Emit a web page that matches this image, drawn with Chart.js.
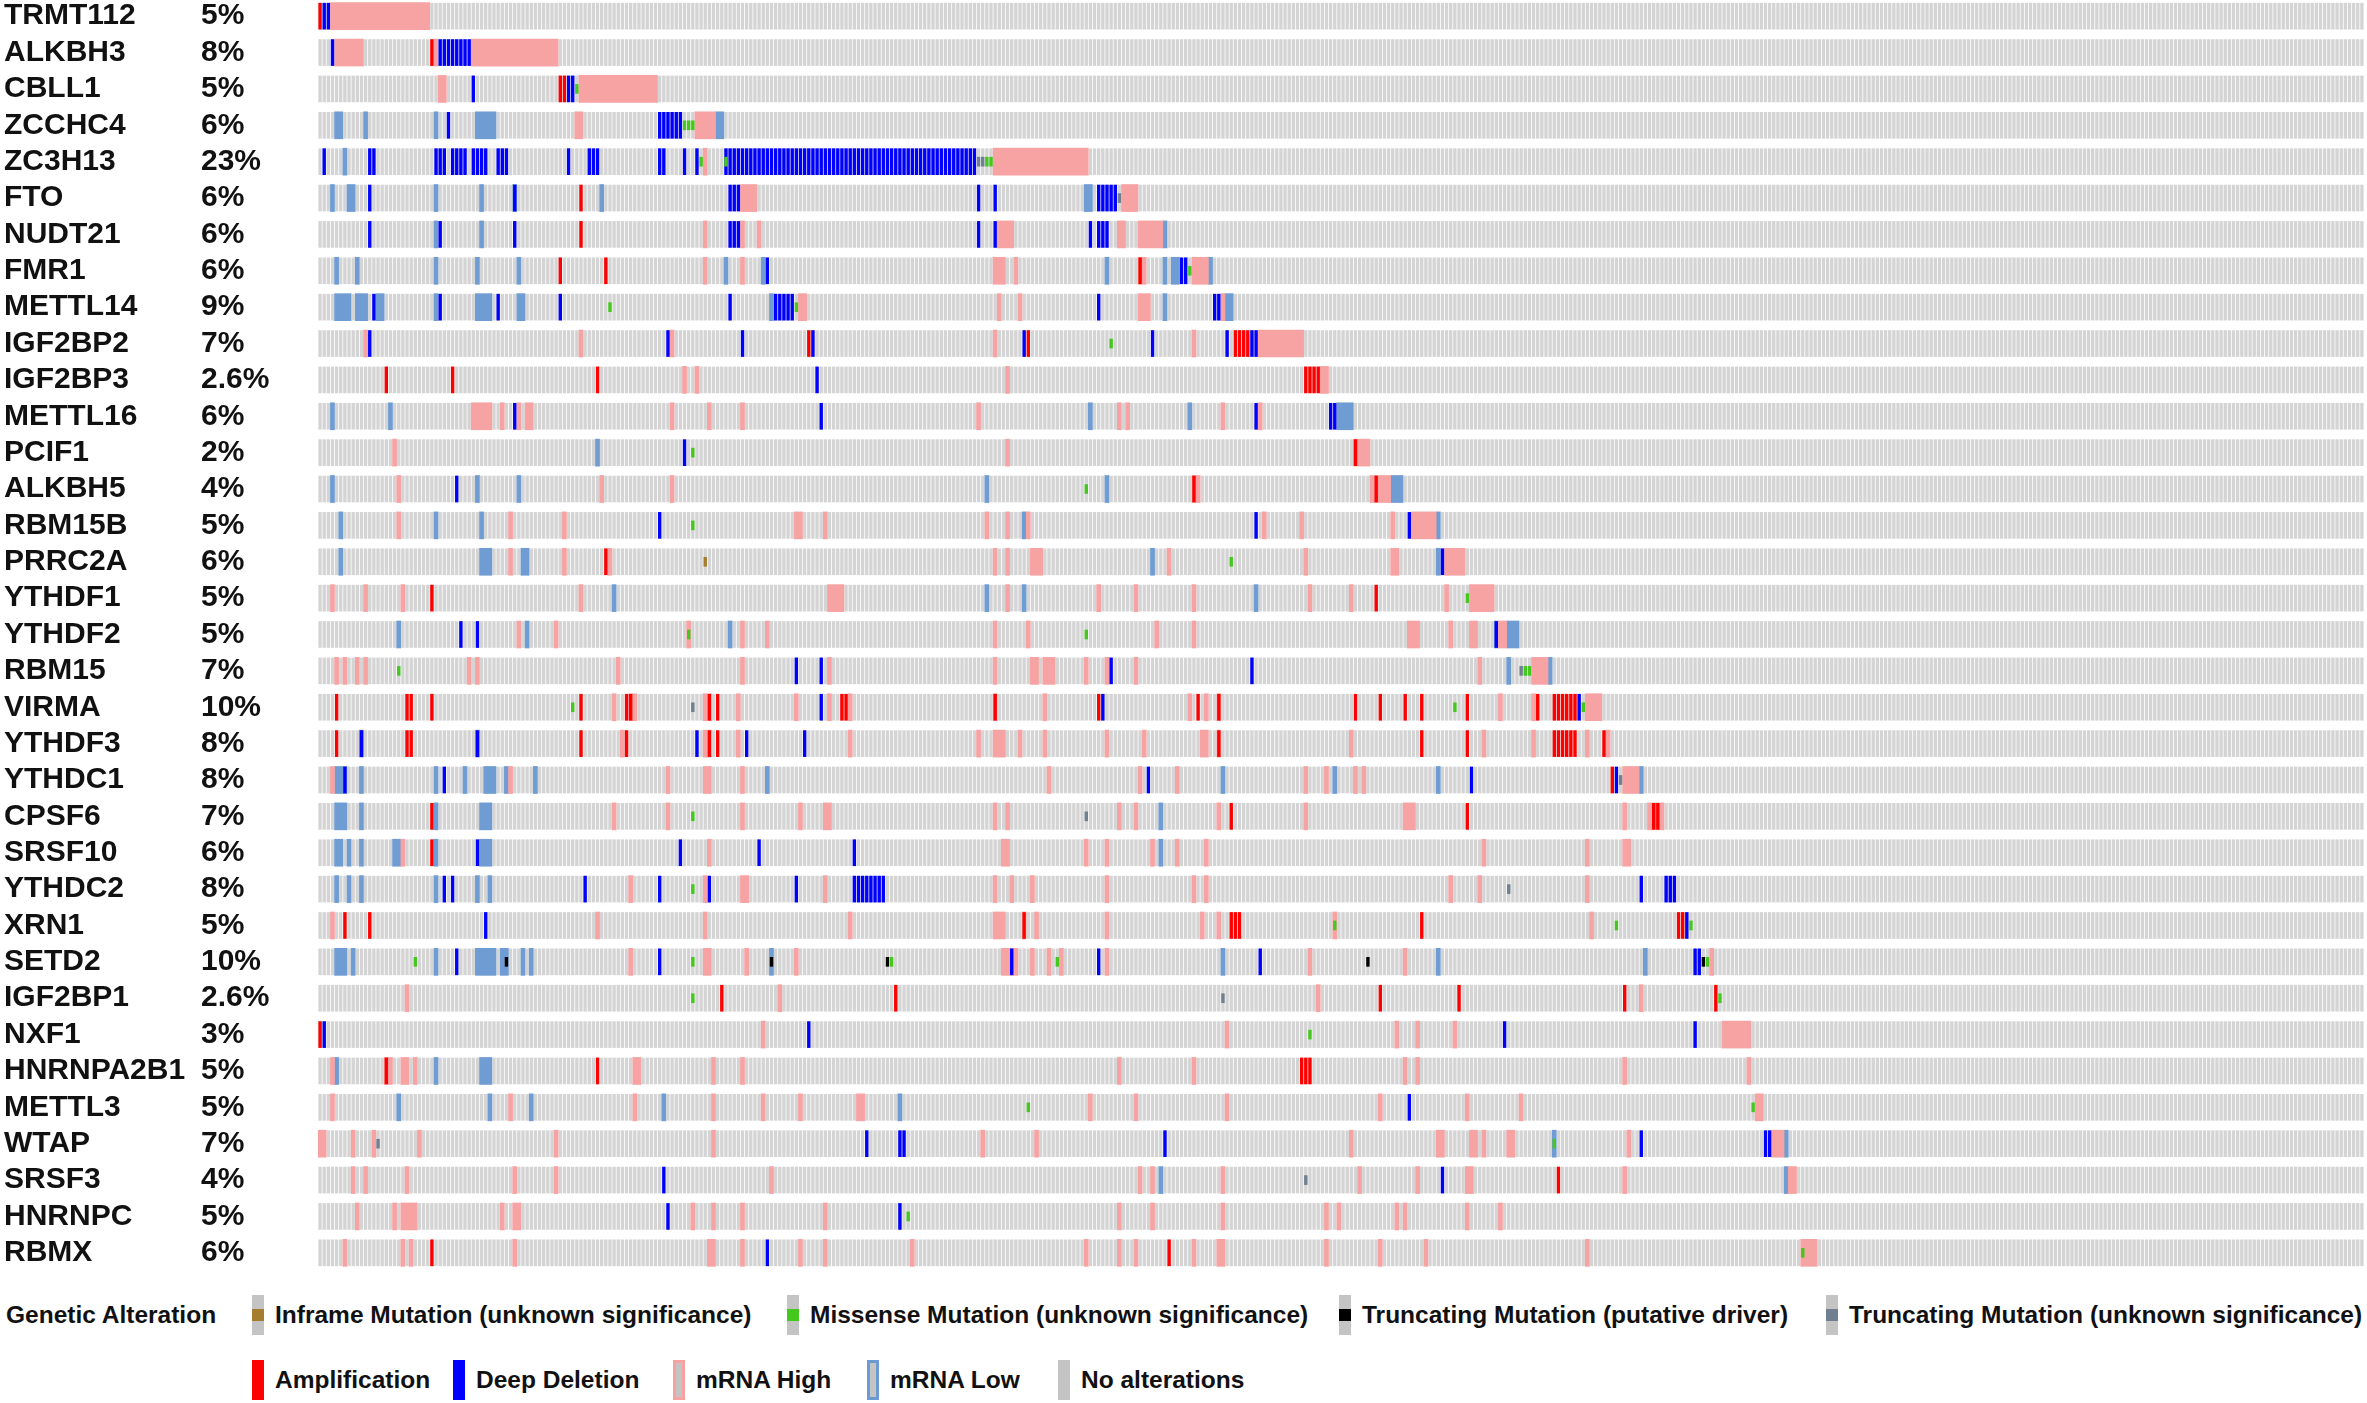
<!DOCTYPE html>
<html lang="en">
<head>
  <meta charset="UTF-8">
  <title>Oncoprint – m6A regulators</title>
  <script src="https://cdn.jsdelivr.net/npm/chart.js"></script>
  <style>
    body {
      margin: 0;
      background: #fff;
      font-family: "Liberation Sans", Arial, sans-serif;
    }
    #wrap {
      position: relative;
      width: 2367px;
      height: 1403px;
      overflow: hidden;
    }
    #chartBox {
      position: absolute;
      left: 0;
      top: -2px;
      width: 2367px;
      height: 1273px;
    }
    .lg {
      position: absolute;
      display: flex;
      align-items: center;
      height: 40px;
      font: bold 24.5px "Liberation Sans", Arial, sans-serif;
      color: #111;
      white-space: nowrap;
    }
    .glyph {
      width: 12px;
      height: 40px;
      margin-right: 11px;
      box-sizing: border-box;
      background: #c4c4c4;
    }
  </style>
</head>
<body>
<div id="wrap">
  <div id="chartBox"><canvas id="onco"></canvas></div>

  <!-- legend -->
  <div class="lg" style="left:6px; top:1295px;">Genetic Alteration</div>
  <div class="lg" style="left:252px; top:1295px;"><div class="glyph" style="background:linear-gradient(#c4c4c4 0 35%, #a67c2e 35% 65%, #c4c4c4 65%);"></div>Inframe Mutation (unknown significance)</div>
  <div class="lg" style="left:787px; top:1295px;"><div class="glyph" style="background:linear-gradient(#c4c4c4 0 35%, #45c81e 35% 65%, #c4c4c4 65%);"></div>Missense Mutation (unknown significance)</div>
  <div class="lg" style="left:1339px; top:1295px;"><div class="glyph" style="background:linear-gradient(#c4c4c4 0 35%, #000 35% 65%, #c4c4c4 65%);"></div>Truncating Mutation (putative driver)</div>
  <div class="lg" style="left:1826px; top:1295px;"><div class="glyph" style="background:linear-gradient(#c4c4c4 0 35%, #708090 35% 65%, #c4c4c4 65%);"></div>Truncating Mutation (unknown significance)</div>

  <div class="lg" style="left:252px; top:1360px;"><div class="glyph" style="background:#ff0000;"></div>Amplification</div>
  <div class="lg" style="left:453px; top:1360px;"><div class="glyph" style="background:#0000ff;"></div>Deep Deletion</div>
  <div class="lg" style="left:673px; top:1360px;"><div class="glyph" style="border:3px solid #f7a1a1;"></div>mRNA High</div>
  <div class="lg" style="left:867px; top:1360px;"><div class="glyph" style="border:3px solid #6d9bd1;"></div>mRNA Low</div>
  <div class="lg" style="left:1058px; top:1360px;"><div class="glyph"></div>No alterations</div>
</div>

<script>
  // samples in the cohort (columns of the oncoprint)
  const N_SAMPLES = 494;

  const genes = [
    "TRMT112", "ALKBH3", "CBLL1", "ZCCHC4", "ZC3H13", "FTO", "NUDT21", "FMR1",
    "METTL14", "IGF2BP2", "IGF2BP3", "METTL16", "PCIF1", "ALKBH5", "RBM15B",
    "PRRC2A", "YTHDF1", "YTHDF2", "RBM15", "VIRMA", "YTHDF3", "YTHDC1", "CPSF6",
    "SRSF10", "YTHDC2", "XRN1", "SETD2", "IGF2BP1", "NXF1", "HNRNPA2B1", "METTL3",
    "WTAP", "SRSF3", "HNRNPC", "RBMX"
  ];
  const percents = [
    "5%", "8%", "5%", "6%", "23%", "6%", "6%", "6%", "9%", "7%", "2.6%", "6%",
    "2%", "4%", "5%", "6%", "5%", "5%", "7%", "10%", "8%", "8%", "7%", "6%",
    "8%", "5%", "10%", "2.6%", "3%", "5%", "5%", "7%", "4%", "5%", "6%"
  ];

  // one list per gene, entries are a sample index or a run [first, last]
  const amplification = [
    [0], [27], [58, 59], [], [], [63], [63], [58, 69, 198], [],
    [118, 171, [221, 224]], [16, 32, 67, [238, 241]], [], [250], [211, 255], [], [69],
    [27, 255], [], [],
    [4, 21, 22, 27, 63, 74, 75, 94, 96, 126, 127, 163, 188, 212, 217, 250, 256, 262, 266, 277, 294, [298, 303]],
    [4, 21, 22, 63, 74, 94, 96, 217, 266, 277, [298, 303], 310],
    [312], [27, 220, 277, 322, 323], [27], [], [6, 12, 170, [220, 222], 266, 328, 329], [],
    [97, 139, 256, 275, 315, 337], [0], [16, 67, [237, 239]], [], [], [299], [], [27, 205]
  ];
  const deepDeletion = [
    [1, 2], [3, [29, 36]], [37, 60, 61], [31, [82, 87]],
    [1, 12, 13, [28, 30], [32, 35], [37, 40], [43, 45], 60, [65, 67], 82, 83, 88, 91, [98, 158]],
    [12, 47, [99, 101], 159, 163, [188, 192]],
    [12, 29, 47, [99, 101], 159, 163, 186, [188, 190]],
    [108, 208, 209],
    [13, 29, 43, 58, 99, [110, 114], 188, 216, 217],
    [12, 84, 102, 119, 170, 201, 219, 225, 226],
    [120], [47, 121, 226, 244, 245], [88], [33], [82, 226, 263], [271], [], [34, 38, 284],
    [115, 121, 191, 225], [121, 189, 304], [10, 38, 91, 103, 117], [6, 30, 200, 278, 313], [],
    [38, 87, 106, 129],
    [30, 32, 64, 82, 94, 115, [129, 136], 319, [325, 327]],
    [40, 330], [33, 82, 167, 188, 227, 332, 333], [], [1, 118, 286, 332], [], [263],
    [132, 140, 141, 204, 319, 349, 350], [83, 271], [84, 140], [108]
  ];
  const mrnaHigh = [
    [[3, 26]],
    [[4, 10], 28, [37, 57]],
    [[29, 30], [63, 81]],
    [[62, 63], [91, 95]],
    [93, [163, 185]],
    [[102, 105], [194, 197]],
    [93, 102, 106, [164, 167], [193, 194], [198, 203]],
    [93, 102, [163, 165], 168, [198, 199], [211, 214]],
    [[116, 117], 164, 169, [198, 200], 218],
    [11, 63, 85, 163, 211, [227, 237]],
    [88, 91, 166, [242, 243]],
    [[37, 41], 44, 48, [50, 51], 85, 94, 102, 159, 193, 195, 218, 227],
    [18, 166, [250, 253]],
    [19, 68, 85, [211, 212], [254, 258]],
    [19, 46, 59, [115, 116], 122, 161, 166, 171, 228, 237, 259, [264, 269]],
    [46, 59, 70, 163, 166, [172, 174], 205, 238, [259, 260], [272, 276]],
    [3, 11, 20, 63, [123, 126], 166, 188, 197, 211, 239, 249, 272, [278, 283]],
    [48, 57, 89, 102, 108, 163, 171, 202, 211, [263, 265], 273, [278, 279], [285, 286]],
    [4, 6, 9, 11, 36, 38, 72, 102, 123, 163, [172, 173], [175, 177], 185, 190, 197, 280, [293, 296]],
    [71, [75, 76], [93, 94], 101, 115, 123, 128, 163, 175, 210, 214, 217, 285, 293, [306, 309]],
    [73, [93, 94], 101, 128, 159, [163, 165], 169, 175, 190, 199, [213, 214], 217, 249, 281, 293, 306, 311],
    [3, 46, 84, [93, 94], 102, 176, 198, 207, 238, 243, 250, 252, [315, 318]],
    [71, 84, 102, 116, [122, 123], 163, 166, 193, 197, 217, 238, [262, 264], 315, [321, 324]],
    [20, 94, [165, 166], 185, 190, 201, 207, 214, 281, 306, [315, 316]],
    [75, 93, [102, 103], 122, 163, 167, 172, 190, 211, 214, 273, 280, 306],
    [3, 67, 93, 128, [163, 165], 170, 173, 190, 213, 217, 245, 307],
    [75, [93, 94], 103, 115, [165, 168], 172, 176, 179, 190, 239, 262, 336],
    [21, 111, 241, 319],
    [107, 219, 260, 265, 274, [339, 345]],
    [3, [16, 17], [20, 21], 23, [76, 77], 95, 102, 193, 211, 262, 265, 315, 345],
    [3, 46, 76, 95, 107, 116, [130, 131], 186, 197, 219, 256, 277, 290, [347, 348]],
    [[0, 1], 8, 13, 24, 57, 95, 160, 173, 249, [270, 271], [278, 279], 281, [287, 288], 316, [351, 353]],
    [8, 11, 21, 47, 57, 109, 198, 201, 218, 251, 265, [277, 278], 315, [355, 356]],
    [9, 18, [20, 23], 44, [47, 48], 90, 95, 102, 122, 193, 201, 218, 243, 246, 260, 262, 277, 285],
    [6, 20, 22, 47, [94, 95], 102, 116, 122, 143, 185, 193, 197, 211, [217, 218], 243, 256, 267, 306, [358, 361]]
  ];
  const mrnaLow = [
    [], [], [],
    [[4, 5], 11, 28, [38, 42], [96, 97]],
    [6],
    [3, [7, 8], 28, 39, 47, 68, [185, 186]],
    [28, 39, 204],
    [4, 9, 28, 38, 48, 98, 107, 190, 204, [206, 207], 215],
    [[4, 7], [9, 11], [14, 15], 28, [38, 41], [48, 49], 109, 204, [219, 220]],
    [], [],
    [3, 17, 186, 210, [246, 249]],
    [67],
    [3, 38, 48, 161, 190, [259, 261]],
    [5, 28, 39, 170, 270],
    [5, [39, 41], [49, 50], 201, 270],
    [71, 161, 170, 226],
    [19, 50, 99, 284, [287, 289]],
    [287, 297],
    [],
    [10, 38],
    [[4, 6], 10, 28, 35, [40, 42], 45, 52, 108, 218, 245, 270, 319],
    [[4, 6], 10, 28, [39, 41], 203],
    [[4, 5], 7, 10, [18, 19], 28, [39, 41], 203],
    [4, 7, 10, 28, 38, 41],
    [],
    [[4, 6], 8, 28, [38, 42], [44, 45], 49, 51, 109, 218, 270, 320],
    [], [],
    [4, 28, [39, 41]],
    [19, 41, 51, 83, 140],
    [298, 354],
    [203, 354],
    [], []
  ];
  const missense = [
    [], [], [62], [88, 89, 90], [92, 98, 161, 162], [], [], [210], [70, 115], [191],
    [], [], [90], [185], [90], [220], [277], [89, 185], [19, 291, 292], [61, 274, 305],
    [], [], [90], [], [90], [245, 313, 331], [23, 90, 138, 178, 335], [90, 338], [239],
    [], [171, 346], [298], [], [142], [358]
  ];
  const truncDriver = [
    [], [], [], [], [], [], [], [], [], [], [], [], [], [], [], [], [], [], [], [],
    [], [], [], [], [], [], [45, 109, 137, 253, 334], [], [], [], [], [], [], [], []
  ];
  const truncUnknown = [
    [], [], [], [], [159, 160], [193], [], [], [], [], [], [], [], [], [], [], [], [],
    [290], [90], [], [314], [185], [], [287], [], [], [218], [], [], [], [14], [238], [], []
  ];
  const inframe = [
    [], [], [], [], [], [], [], [], [], [], [], [], [], [], [], [93], [], [], [], [],
    [], [], [], [], [], [], [], [], [], [], [], [], [], [], []
  ];

  // run-length list -> sample indices
  function expand(list) {
    const out = [];
    list.forEach(function(e) {
      if (Array.isArray(e)) {
        for (let s = e[0]; s <= e[1]; s++) out.push(s);
      } else {
        out.push(e);
      }
    });
    return out;
  }

  // one thin stripe per altered sample
  function stripes(lists, half) {
    const data = [];
    lists.forEach(function(list, g) {
      expand(list).forEach(function(s) {
        data.push({ y: genes[g], x: [s - half, s + half] });
      });
    });
    return data;
  }

  // mRNA runs are drawn as one joined block
  function blocks(lists) {
    const data = [];
    lists.forEach(function(list, g) {
      list.forEach(function(e) {
        const run = Array.isArray(e) ? e : [e, e];
        data.push({ y: genes[g], x: [run[0] - 0.5, run[1] + 0.48] });
      });
    });
    return data;
  }

  // gray background cell for every sample of every gene
  const background = [];
  genes.forEach(function(g) {
    for (let s = 0; s < N_SAMPLES; s++) {
      background.push({ y: g, x: [s - 0.33, s + 0.32] });
    }
  });

  const ROW_H = 26;
  const MUT_H = 9;

  function layer(label, data, color, thickness, order) {
    return {
      label: label,
      data: data,
      backgroundColor: color,
      borderWidth: 0,
      barThickness: thickness,
      grouped: false,
      order: order
    };
  }

  const labelFont = { family: "'Liberation Sans', Arial, sans-serif", size: 30, weight: "bold" };

  // the row labels must not add half-label padding above and below the rows
  function fitLabelAxis(width) {
    return function(scale) {
      scale.width = width;
      scale.paddingTop = 0;
      scale.paddingBottom = 0;
    };
  }

  new Chart(document.getElementById("onco"), {
    type: "bar",
    data: {
      labels: genes,
      datasets: [
        layer("Inframe Mutation (unknown significance)", stripes(inframe, 0.33), "#a67c2e", MUT_H, 0),
        layer("Missense Mutation (unknown significance)", stripes(missense, 0.33), "#45c81e", MUT_H, 0),
        layer("Truncating Mutation (putative driver)", stripes(truncDriver, 0.33), "#000000", MUT_H, 0),
        layer("Truncating Mutation (unknown significance)", stripes(truncUnknown, 0.33), "#708090", MUT_H, 0),
        layer("Amplification", stripes(amplification, 0.33), "#ff0000", ROW_H, 1),
        layer("Deep Deletion", stripes(deepDeletion, 0.33), "#0000ff", ROW_H, 1),
        layer("mRNA High", blocks(mrnaHigh), "#f7a3a3", ROW_H + 1, 2),
        layer("mRNA Low", blocks(mrnaLow), "#6f9cd2", ROW_H + 1, 2),
        layer("No alterations", background, "#d4d4d4", ROW_H, 3)
      ]
    },
    options: {
      indexAxis: "y",
      responsive: true,
      maintainAspectRatio: false,
      animation: false,
      devicePixelRatio: 1,
      events: [],
      layout: { padding: { left: 4, right: 3, top: 0, bottom: 0 } },
      plugins: {
        legend: { display: false },
        tooltip: { enabled: false }
      },
      scales: {
        x: {
          type: "linear",
          min: -0.5,
          max: N_SAMPLES - 0.5,
          display: false
        },
        y: {
          type: "category",
          position: "left",
          weight: 2,
          offset: true,
          grid: { display: false, drawTicks: false },
          border: { display: false },
          ticks: { font: labelFont, color: "#111", crossAlign: "far", padding: 0, autoSkip: false },
          afterFit: fitLabelAxis(197)
        },
        pct: {
          type: "category",
          labels: percents,
          position: "left",
          weight: 1,
          offset: true,
          grid: { display: false, drawTicks: false },
          border: { display: false },
          ticks: { font: labelFont, color: "#111", crossAlign: "far", padding: 0, autoSkip: false },
          afterFit: fitLabelAxis(117)
        }
      }
    }
  });
</script>
</body>
</html>
